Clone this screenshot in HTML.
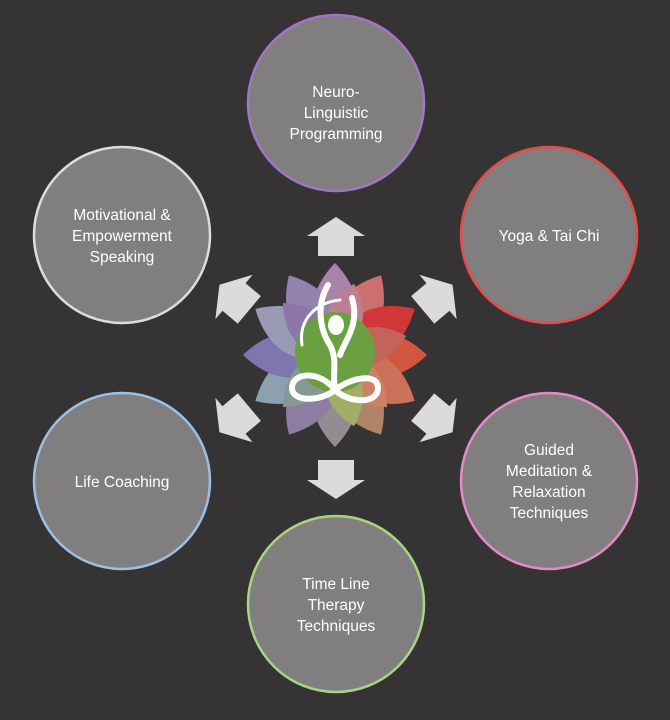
<!DOCTYPE html>
<html><head><meta charset="utf-8"><style>
html,body{margin:0;padding:0;background:#353334;}
svg{display:block}
text{font-family:"Liberation Sans",sans-serif;font-size:15.5px;fill:#fff;text-anchor:middle}
</style></head><body>
<svg width="670" height="720" viewBox="0 0 670 720" xmlns="http://www.w3.org/2000/svg">
<rect width="670" height="720" fill="#353334"/>
<defs>
<path id="arr" d="M0,-19 L29,0 L18,0 L18,20 L-18,20 L-18,0 L-29,0 Z" fill="#dcdbdc"/>
<path id="pet" d="M0,0 C-34,-30 -26,-65 0,-92 C26,-65 34,-30 0,0 Z"/>
</defs>
<g stroke-width="2.5" fill="#807e7f">
<circle cx="336" cy="103" r="88" stroke="#a274c8"/>
<circle cx="549" cy="235" r="88" stroke="#e84a4a"/>
<circle cx="549" cy="481" r="88" stroke="#e48ac8"/>
<circle cx="336" cy="604" r="88" stroke="#a8d484"/>
<circle cx="122" cy="481" r="88" stroke="#9cc0e4"/>
<circle cx="122" cy="235" r="88" stroke="#dcdcdc"/>
</g>
<text x="336" y="97">Neuro-</text><text x="336" y="118">Linguistic</text><text x="336" y="139">Programming</text>
<text x="549" y="241">Yoga &amp; Tai Chi</text>
<text x="549" y="455">Guided</text><text x="549" y="476">Meditation &amp;</text><text x="549" y="497">Relaxation</text><text x="549" y="518">Techniques</text>
<text x="336" y="589">Time Line</text><text x="336" y="610">Therapy</text><text x="336" y="631">Techniques</text>
<text x="122" y="487">Life Coaching</text>
<text x="122" y="220">Motivational &amp;</text><text x="122" y="241">Empowerment</text><text x="122" y="262">Speaking</text>
<use href="#arr" transform="translate(336,236)"/>
<use href="#arr" transform="translate(336,480) rotate(180)"/>
<use href="#arr" transform="translate(234,297) rotate(-50)"/>
<use href="#arr" transform="translate(438,297) rotate(50)"/>
<use href="#arr" transform="translate(234,420) rotate(-130)"/>
<use href="#arr" transform="translate(438,420) rotate(130)"/>
<g transform="translate(335,355)" opacity="0.88">
<use href="#pet" fill="#b890b8" transform="rotate(0)"/>
<use href="#pet" fill="#e07878" transform="rotate(30)"/>
<use href="#pet" fill="#e83838" transform="rotate(60)"/>
<use href="#pet" fill="#e85a40" transform="rotate(90)"/>
<use href="#pet" fill="#e07a60" transform="rotate(120)"/>
<use href="#pet" fill="#c09070" transform="rotate(150)"/>
<use href="#pet" fill="#a09aa0" transform="rotate(180)"/>
<use href="#pet" fill="#9a88b0" transform="rotate(210)"/>
<use href="#pet" fill="#9ab0c0" transform="rotate(240)"/>
<use href="#pet" fill="#8a80c0" transform="rotate(270)"/>
<use href="#pet" fill="#a8a8c8" transform="rotate(300)"/>
<use href="#pet" fill="#a090c0" transform="rotate(330)"/>
<use href="#pet" fill="#d08aa0" transform="rotate(15) scale(0.8)"/>
<use href="#pet" fill="#d86a60" transform="rotate(75) scale(0.8)"/>
<use href="#pet" fill="#e0906a" transform="rotate(135) scale(0.8)"/>
<use href="#pet" fill="#b0c070" transform="rotate(165) scale(0.8)"/>
<use href="#pet" fill="#90a8a0" transform="rotate(225) scale(0.8)"/>
<use href="#pet" fill="#9c80b8" transform="rotate(315) scale(0.8)"/>
</g>
<circle cx="335" cy="352" r="40" fill="#6aa040"/>
<g fill="none" stroke="#fff" stroke-width="6" stroke-linecap="round">
<path d="M335,390 C320,370 292,372 292,388 C292,402 320,402 335,390 C350,378 378,372 378,388 C378,404 350,404 335,390 Z"/>
<path d="M328,285 C316,305 320,330 330,345 C338,360 332,375 335,388"/>
<path d="M352,298 C360,325 345,340 340,355"/>
<path d="M302,345 C298,318 318,302 340,300" stroke-width="3"/>
</g>
<ellipse cx="336" cy="325" rx="8" ry="10" fill="#fff"/>
</svg>
</body></html>
